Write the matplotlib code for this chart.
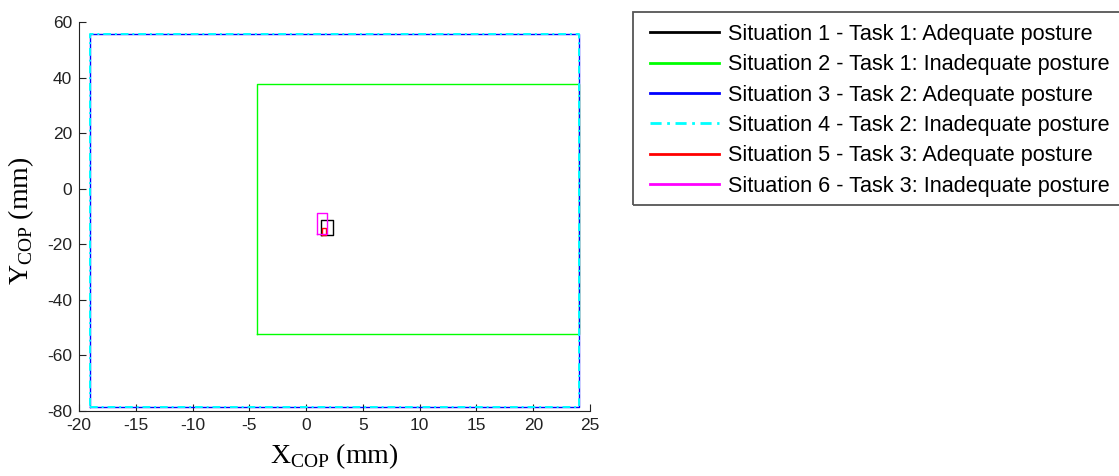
import numpy as np
import matplotlib
matplotlib.use('Agg')
import matplotlib.pyplot as plt
from matplotlib.patches import Rectangle

# Rectangles (bounding boxes of COP) for each situation
labels = ['Situation 1 - Task 1: Adequate posture',
          'Situation 2 - Task 1: Inadequate posture',
          'Situation 3 - Task 2: Adequate posture',
          'Situation 4 - Task 2: Inadequate posture',
          'Situation 5 - Task 3: Adequate posture',
          'Situation 6 - Task 3: Inadequate posture']
x_min = [1.3, -4.3, -19.0, -19.0, 1.4, 1.0]
x_max = [2.35, 24.0, 24.0, 24.0, 1.75, 1.8]
y_min = [-16.7, -52.3, -78.5, -78.5, -16.6, -16.3]
y_max = [-11.3, 37.8, 55.8, 55.8, -14.0, -8.9]
colors = ['black', '#00ff00', 'blue', 'cyan', 'red', 'magenta']
styles = ['-', '-', '-', (0, (4, 2, 1, 2)), '-', '-']
widths = [1.0, 1.0, 1.0, 1.4, 1.0, 1.0]

x_ticks = [-20, -15, -10, -5, 0, 5, 10, 15, 20, 25]
y_ticks = [-80, -60, -40, -20, 0, 20, 40, 60]

plt.rcParams['font.family'] = ['Liberation Sans', 'DejaVu Sans']
plt.rcParams['mathtext.fontset'] = 'custom'
plt.rcParams['mathtext.rm'] = 'Liberation Serif'
plt.rcParams['axes.unicode_minus'] = False

fig = plt.figure(figsize=(11.19, 4.76), dpi=100)
ax = fig.add_axes([0.0706, 0.1366, 0.4567, 0.8172])

for i in range(len(labels)):
    xs = [x_min[i], x_max[i], x_max[i], x_min[i], x_min[i]]
    ys = [y_min[i], y_min[i], y_max[i], y_max[i], y_min[i]]
    ax.plot(xs, ys, color=colors[i], linestyle=styles[i], linewidth=widths[i], label=labels[i])

ax.set_xlim(-20, 25)
ax.set_ylim(-80, 60)
ax.set_xticks(x_ticks)
ax.set_yticks(y_ticks)
ax.tick_params(direction='in', labelsize=12.5, length=5, width=0.8, colors='#222222', pad=5)
ax.spines['top'].set_visible(False)
ax.spines['right'].set_visible(False)
ax.spines['left'].set_color('#222222')
ax.spines['bottom'].set_color('#222222')

ax.set_xlabel(r'X$_{\mathregular{COP}}$ (mm)', fontsize=20, family='Liberation Serif', labelpad=6)
ax.set_ylabel(r'Y$_{\mathregular{COP}}$ (mm)', fontsize=20, family='Liberation Serif')
ax.yaxis.set_label_coords(-0.085, 0.49)

# legend box (runs past the right edge, as in the original figure)
fig.patches.append(Rectangle((0.5657, 0.5693), 0.5, 0.4055, transform=fig.transFigure,
                             fill=False, edgecolor='#555555', linewidth=1.3))
leg = fig.legend(loc='upper left', bbox_to_anchor=(0.5809, 0.9496), fontsize=15.6,
                 handlelength=3.2, labelspacing=0.43, borderpad=0, borderaxespad=0,
                 handletextpad=0.38, frameon=False)
for line in leg.get_lines():
    line.set_linewidth(2.0)

fig.savefig('out.png', dpi=100)
